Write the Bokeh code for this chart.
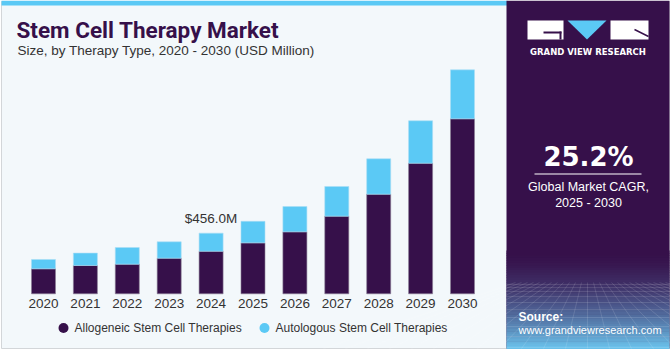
from bokeh.plotting import figure
from bokeh.models import Range1d
from bokeh.embed import file_html
from bokeh.resources import INLINE
from bokeh.core.properties import value

years = ["2020", "2021", "2022", "2023", "2024", "2025", "2026", "2027", "2028", "2029", "2030"]
allogeneic = [188, 213, 223, 268, 320, 383, 466, 584, 749, 982, 1316]
autologous = [70, 93, 125, 123, 136, 162, 190, 223, 266, 319, 368]
series_names = ["Allogeneic Stem Cell Therapies", "Autologous Stem Cell Therapies"]
highlight_year = "2024"
highlight_label = "$456.0M"
title = "Stem Cell Therapy Market"
subtitle = "Size, by Therapy Type, 2020 - 2030 (USD Million)"
cagr = "25.2%"
cagr_label = ["Global Market CAGR,", "2025 - 2030"]
source_lines = ["Source:", "www.grandviewresearch.com"]

DARK = "#36104a"
BLUE = "#5bc9f5"
FONT = "Liberation Sans"

W, H = 671, 350
p = figure(width=W, height=H, output_backend="svg", toolbar_location=None,
           x_range=Range1d(-1.026, 14.988), y_range=Range1d(-426.4, 2205.6),
           min_border=0, outline_line_color=None,
           background_fill_color="white", border_fill_color="white")
p.axis.visible = False
p.grid.visible = False
p.extra_x_ranges = {"px": Range1d(0, W)}
p.extra_y_ranges = {"py": Range1d(H, 0)}
px = dict(x_range_name="px", y_range_name="py")

# left panel background
p.quad(left=[1], right=[669], top=[1], bottom=[348], fill_color="#f3f8fb",
       line_color="#d3d6d9", line_width=1, **px)
# top strip
p.quad(left=[1], right=[507], top=[0], bottom=[5], fill_color=BLUE, line_color=None, **px)

# right panel
p.quad(left=[506], right=[669], top=[0], bottom=[348], fill_color=DARK, line_color=None, **px)
# gradient at bottom of right panel
n = 40
y0, y1 = 250, 348
c0 = (0x36, 0x10, 0x4a)
c1 = (0x6c, 0xc4, 0xee)
for k in range(n):
    t = (k + 0.5) / n
    tt = t ** 1.6
    c = tuple(int(c0[j] + (c1[j] - c0[j]) * tt) for j in range(3))
    ya = y0 + (y1 - y0) * k / n
    yb = y0 + (y1 - y0) * (k + 1) / n
    p.quad(left=[506], right=[669], top=[ya], bottom=[yb + 0.5],
           fill_color="#%02x%02x%02x" % c, line_color=None, **px)
# perspective grid texture
gx, gy = [], []
for k in range(-12, 25):
    xa = 587 + k * 6
    xb = 587 + k * 22
    gx.append([xa, xb])
    gy.append([282, 348])
p.multi_line(gx, gy, line_color="white", line_alpha=0.12, line_width=1, **px)
hy = [284, 287, 291, 296, 302, 309, 317, 326, 336, 347]
p.segment(x0=[506] * len(hy), x1=[669] * len(hy), y0=hy, y1=hy,
          line_color="white", line_alpha=0.12, line_width=1, **px)

# logo
p.quad(left=[527], right=[563], top=[20], bottom=[39], fill_color="white", line_color=None, **px)
p.quad(left=[543], right=[561], top=[31], bottom=[33], fill_color=DARK, line_color=None, **px)
p.quad(left=[559], right=[561], top=[31], bottom=[39], fill_color=DARK, line_color=None, **px)
p.patch(x=[567, 606, 586.5], y=[20, 20, 39], fill_color=BLUE, line_color=None, **px)
p.quad(left=[610], right=[648], top=[20], bottom=[39], fill_color="white", line_color=None, **px)
p.segment(x0=[634], y0=[29], x1=[648], y1=[36], line_color=DARK, line_width=1.5, **px)
p.text(x=[587.5], y=[51], text=["GRAND VIEW RESEARCH"], text_font=value("DejaVu Sans"),
       text_font_style="bold", text_font_size="8.5px", text_color="white",
       text_align="center", text_baseline="middle", **px)

# CAGR
p.text(x=[588], y=[156], text=[cagr], text_font=value("DejaVu Sans"), text_font_style="bold",
       text_font_size="26px", text_color="white", text_align="center", text_baseline="middle", **px)
p.segment(x0=[534], x1=[641], y0=[173.5], y1=[173.5], line_color="white", line_width=1.2, **px)
p.text(x=[588, 588], y=[186, 202], text=cagr_label, text_font=value(FONT),
       text_font_size="12.5px", text_color="white", text_align="center", text_baseline="middle", **px)

# source
p.text(x=[518], y=[316], text=[source_lines[0]], text_font=value(FONT), text_font_style="bold",
       text_font_size="12px", text_color="white", text_align="left", text_baseline="middle", **px)
p.text(x=[518], y=[329.5], text=[source_lines[1]], text_font=value(FONT),
       text_font_size="11px", text_color="white", text_align="left",
       text_baseline="middle", **px)

# titles
p.text(x=[16], y=[29], text=[title], text_font=value("Roboto"), text_font_style="bold",
       text_font_size="22.5px", text_color=DARK, text_align="left", text_baseline="middle", **px)
p.text(x=[17], y=[49.5], text=[subtitle], text_font=value(FONT), text_font_size="13.5px",
       text_color="#333333", text_align="left", text_baseline="middle", **px)

# bars (data coordinates)
xs = list(range(len(years)))
source = dict(x=xs, allo=allogeneic, auto=autologous)
p.vbar_stack(["allo", "auto"], x="x", width=0.573, source=source,
             color=[DARK, BLUE], line_color=["#8a7d96", "#a9def5"], line_width=0.6)

# year labels
p.text(x=xs, y=[-72] * len(xs), text=years, text_font=value(FONT), text_font_size="13.5px",
       text_color="#333333", text_align="center", text_baseline="middle")

# highlight label
hi = years.index(highlight_year)
p.text(x=[hi], y=[allogeneic[hi] + autologous[hi] + 55], text=[highlight_label],
       text_font=value(FONT), text_font_size="13.5px", text_color="#333333",
       text_align="center", text_baseline="bottom")

# legend
p.scatter(x=[63, 264], y=[327.5, 327.5], size=10, marker="circle",
          fill_color=[DARK, BLUE], line_color=None, **px)
p.text(x=[74, 275], y=[327.5, 327.5], text=series_names, text_font=value(FONT),
       text_font_size="12px", text_color="#333333", text_align="left",
       text_baseline="middle", **px)

open("out.html", "w").write(file_html(p, INLINE))
